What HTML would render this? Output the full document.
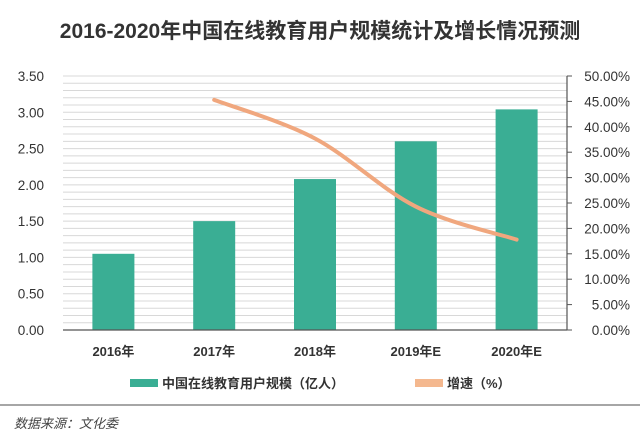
<!DOCTYPE html>
<html><head><meta charset="utf-8"><style>
body{margin:0;width:640px;height:443px;background:#fff;overflow:hidden;font-family:"Liberation Sans","Noto Sans CJK SC",sans-serif}
</style></head><body>
<svg width="640" height="443" id="svg" font-family="Liberation Sans, Noto Sans CJK SC, sans-serif">
<text x="320" y="38" text-anchor="middle" font-size="21" font-weight="bold" fill="#333">2016-2020年中国在线教育用户规模统计及增长情况预测</text>
<g id="grid"></g><g id="bars"></g><g id="line"></g><g id="axes"></g>
<g>
<rect x="130" y="379" width="28" height="8" fill="#3aae94"/>
<text x="162" y="388" font-size="13" font-weight="bold" fill="#333">中国在线教育用户规模（亿人）</text>
<rect x="415" y="379" width="28" height="8" fill="#f4b88f"/>
<text x="447" y="388" font-size="13" font-weight="bold" fill="#333">增速（%）</text>
</g>
<line x1="0" y1="405" x2="640" y2="405" stroke="#888" stroke-width="1.5"/>
<text x="14" y="428" font-size="13" font-style="italic" fill="#444">数据来源：文化委</text>
</svg>
<script>
const categories=["2016年","2017年","2018年","2019年E","2020年E"];
const users=[1.05,1.50,2.08,2.60,3.04];
const growth=[null,45.3,37.7,24.3,17.8];
const leftTicks=[0,0.5,1,1.5,2,2.5,3,3.5];
const rightTicks=[0,5,10,15,20,25,30,35,40,45,50];
const NS="http://www.w3.org/2000/svg";
const X0=63,X1=567,Y0=330,Y1=76;
const band=(X1-X0)/categories.length;
const xc=i=>X0+band*(i+0.5);
const yl=v=>Y0-(v/3.5)*(Y0-Y1);
const yr=v=>Y0-(v/50)*(Y0-Y1);
function mk(tag,attrs,parent,txt){const e=document.createElementNS(NS,tag);for(const k in attrs)e.setAttribute(k,attrs[k]);if(txt!=null)e.textContent=txt;document.getElementById(parent).appendChild(e);return e;}
for(let k=1;k<=35;k++){const v=k/10;
const g=mk('line',{x1:X0,x2:X1,y1:yl(v),y2:yl(v),stroke:'#d8d8d8','stroke-width':1},'grid');

}
users.forEach((v,i)=>{
const r=mk('rect',{x:xc(i)-21,y:yl(v),width:42,height:Y0-yl(v),fill:'#3aae94'},'bars');


const t=mk('text',{x:xc(i),y:356,'text-anchor':'middle','font-size':13,'font-weight':'bold',fill:'#333'},'axes',categories[i]);

});
const pts=[];growth.forEach((v,i)=>{if(v!=null)pts.push([xc(i),yr(v)]);});
let d='M'+pts[0][0]+','+pts[0][1];
for(let i=0;i<pts.length-1;i++){const p0=pts[i-1]||pts[i],p1=pts[i],p2=pts[i+1],p3=pts[i+2]||p2;
d+=' C'+(p1[0]+(p2[0]-p0[0])/6)+','+(p1[1]+(p2[1]-p0[1])/6)+' '+(p2[0]-(p3[0]-p1[0])/6)+','+(p2[1]-(p3[1]-p1[1])/6)+' '+p2[0]+','+p2[1];}
const ln=mk('path',{d:d,fill:'none',stroke:'#f0a77e','stroke-width':4,'stroke-linecap':'round'},'line');


const xa=mk('line',{x1:X0,x2:X1,y1:Y0,y2:Y0,stroke:'#555','stroke-width':1.2},'axes');


const ra=mk('line',{x1:X1,x2:X1,y1:Y1,y2:Y0,stroke:'#555','stroke-width':1.2},'axes');


leftTicks.forEach(v=>{const t=mk('text',{x:44,y:yl(v)+5,'text-anchor':'end','font-size':13.5,fill:'#333'},'axes',v.toFixed(2));

});
rightTicks.forEach(v=>{mk('line',{x1:X1,x2:X1+5,y1:yr(v),y2:yr(v),stroke:'#555'},'axes');
const t=mk('text',{x:630,y:yr(v)+5,'text-anchor':'end','font-size':13.5,fill:'#333'},'axes',v.toFixed(2)+'%');

});
</script>
</body></html>
